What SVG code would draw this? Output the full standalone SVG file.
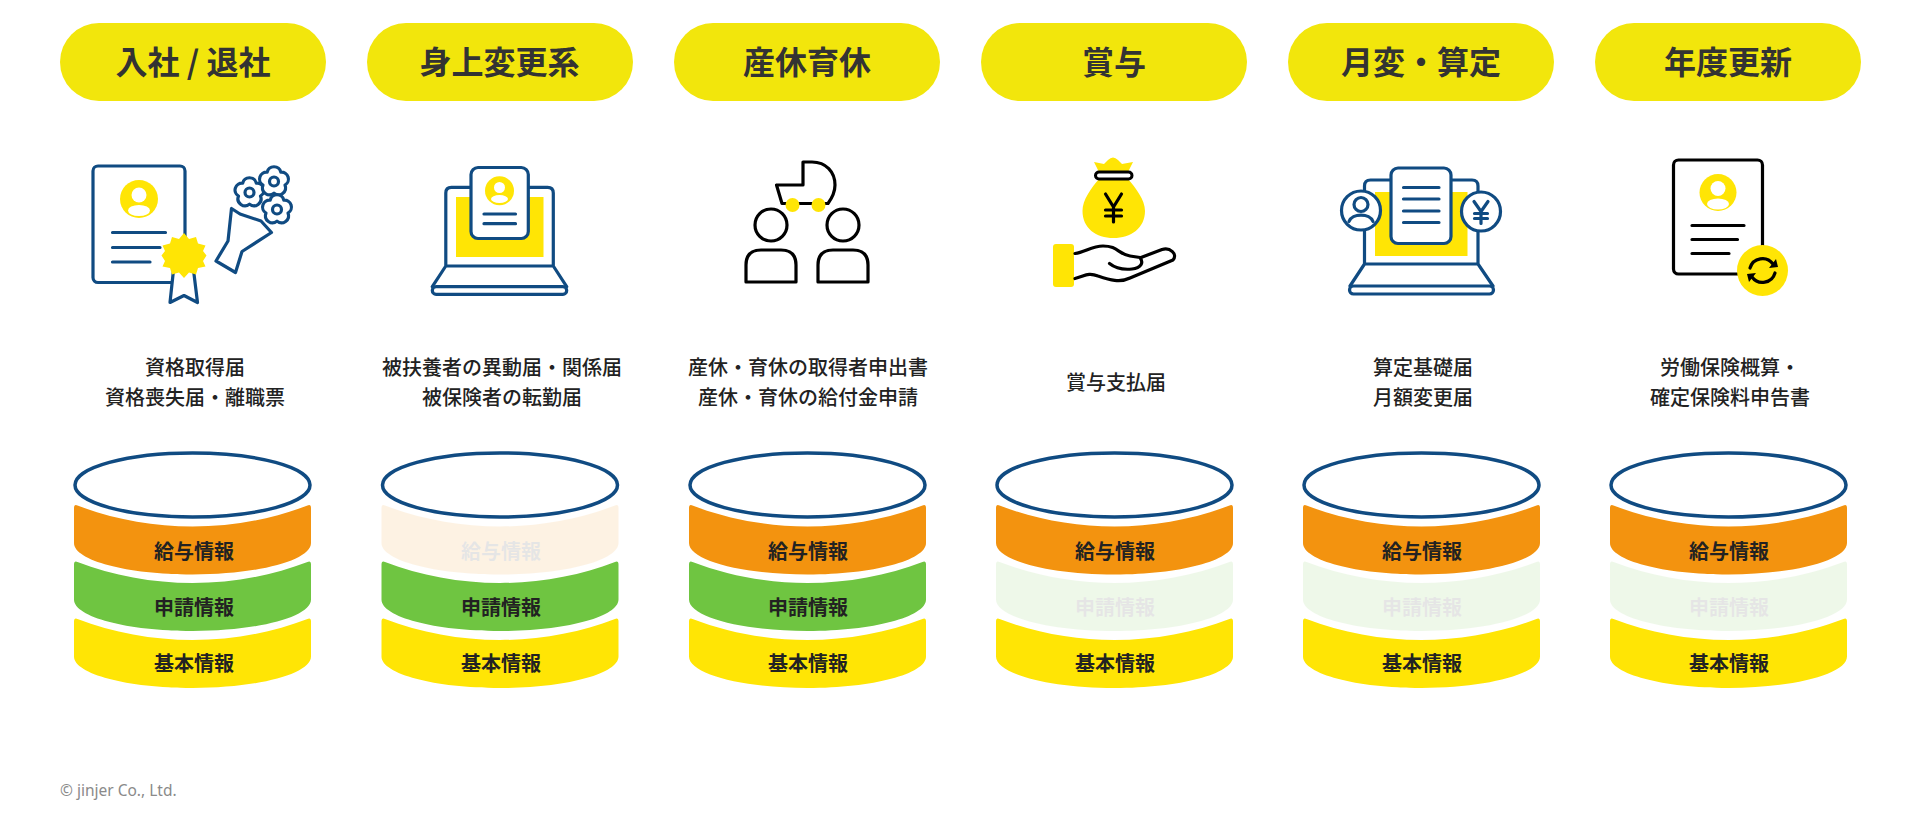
<svg xmlns="http://www.w3.org/2000/svg" width="1920" height="825" viewBox="0 0 1920 825">
<style>
text{font-family:"Noto Sans CJK JP","Noto Sans",sans-serif;text-anchor:middle}
.pill{fill:#f2e60c}
.pt{font-size:32px;font-weight:700;fill:#333}
.d{font-size:20px;font-weight:500;fill:#222}
.bt{font-size:20px;font-weight:700;fill:#222}
.top{fill:#fff;stroke:#104b82;stroke-width:3.500}
.o{fill:#f3930f}.g{fill:#6fc541}.y{fill:#ffe505}
.fade{opacity:.11}
.n{fill:none;stroke:#104b82;stroke-width:3.200;stroke-linecap:round;stroke-linejoin:round}
.nw{fill:#fff;stroke:#104b82;stroke-width:3.200;stroke-linejoin:round}
.k{fill:none;stroke:#000;stroke-width:3.200;stroke-linecap:round;stroke-linejoin:round}
.kw{fill:#fff;stroke:#000;stroke-width:3;stroke-linejoin:round}
.fy{fill:#ffe505}
.w{fill:#fff}
</style>
<defs>
<path id="band" d="M-118.500,3Q-118.500,-1 -115,0.500C-80,14 -40,21.500 0,21.500C40,21.500 80,14 115,0.500Q118.500,-1 118.500,3V38C118.500,55.500 65,69.500 0,69.500C-65,69.500 -118.500,55.500 -118.500,38Z"/>
<path id="flower" d="M-6.800,-9.400A7,7 0 0 1 6.800,-9.400A7,7 0 0 1 11,3.600A7,7 0 0 1 0,11.600A7,7 0 0 1 -11,3.600A7,7 0 0 1 -6.800,-9.400Z"/>
<g id="cyl-top"><ellipse class="top" cx="0" cy="485" rx="117.500" ry="32"/></g>
</defs>
<rect width="1920" height="825" fill="#fff"/>

<g id="col1">
<g id="pill1"><rect class="pill" x="60" y="23" width="266" height="78" rx="39"/><text class="pt" x="193" y="74">入社 / 退社</text></g>
<g id="icon1">
<rect class="n" x="93" y="166" width="92" height="116.500" rx="5"/>
<circle class="fy" cx="139" cy="199" r="19"/><circle class="w" cx="139" cy="195" r="7.500"/><ellipse class="w" cx="139" cy="210.500" rx="11" ry="5.500"/>
<path class="n" d="M112.500,232.500H165.500M112.500,247.500H160M112.500,262H150"/>
<path class="nw" d="M173.500,270L170,302.500L184,295.500L197.500,302.500L193.500,270Z"/>
<polygon class="fy" points="184,233 189,239 196,237 198,243.500 205.500,245.500 203,251 206.500,255.500 203,261 205.500,266.500 198,268 196,274.500 189,272.500 184,278 179,272.500 172,274.500 170,268 162.500,266.500 165,261 161.500,255.500 165,251 162.500,245.500 170,243.500 172,237 179,239"/>
<path class="n" d="M231.500,208.500L228,241L216,261L235.500,272.500L242,251.500L271.500,232.500L261,221L240,214Z"/>
<use href="#flower" class="nw" transform="translate(249.500,192.500)"/><circle class="n" cx="249.500" cy="192.500" r="4.500"/>
<use href="#flower" class="nw" transform="translate(274,181.500)"/><circle class="n" cx="274" cy="181.500" r="4.500"/>
<use href="#flower" class="nw" transform="translate(277,209.500)"/><circle class="n" cx="277" cy="209.500" r="4.500"/>
</g>
<text class="d" x="195" y="375">資格取得届</text><text class="d" x="195" y="405">資格喪失届・離職票</text>
<g id="cyl1"><use href="#cyl-top" x="192.500"/>
<use href="#band" class="o" x="192.500" y="505"/><text class="bt" x="194" y="559">給与情報</text>
<use href="#band" class="g" x="192.500" y="561.500"/><text class="bt" x="194" y="615">申請情報</text>
<use href="#band" class="y" x="192.500" y="618.500"/><text class="bt" x="194" y="671">基本情報</text></g>
</g>

<g id="col2">
<g id="pill2"><rect class="pill" x="367" y="23" width="266" height="78" rx="39"/><text class="pt" x="499.500" y="74">身上変更系</text></g>
<g id="icon2">
<rect class="fy" x="456" y="197" width="87.500" height="60"/>
<path class="n" d="M445.800,266V193Q445.800,187.300 451.500,187.300H547.500Q553.300,187.300 553.300,193V266M445.800,266H553.300M445.800,266L432.300,286.700M553.300,266L566.700,286.700"/>
<rect class="n" x="432.300" y="286.700" width="134.400" height="7.600" rx="3.800"/>
<rect class="nw" x="471" y="167.500" width="57.300" height="71" rx="7"/>
<circle class="fy" cx="499.500" cy="190.700" r="14.500"/><circle class="w" cx="499.500" cy="187.500" r="5.500"/><ellipse class="w" cx="499.500" cy="199" rx="8.500" ry="4"/>
<path class="n" d="M484,214H515.500M484,223.700H515.500"/>
</g>
<text class="d" x="502" y="375">被扶養者の異動届・関係届</text><text class="d" x="502" y="405">被保険者の転勤届</text>
<g id="cyl2"><use href="#cyl-top" x="500"/>
<g class="fade"><use href="#band" class="o" x="500" y="505"/><text class="bt" x="501" y="559">給与情報</text></g>
<use href="#band" class="g" x="500" y="561.500"/><text class="bt" x="501" y="615">申請情報</text>
<use href="#band" class="y" x="500" y="618.500"/><text class="bt" x="501" y="671">基本情報</text></g>
</g>

<g id="col3">
<g id="pill3"><rect class="pill" x="674" y="23" width="266" height="78" rx="39"/><text class="pt" x="807" y="74">産休育休</text></g>
<g id="icon3">
<path class="k" d="M803,162H812C826,162 835,172 835,185C835,192 832,198 828,203.500H782L776.500,185H803Z"/>
<circle class="fy" cx="792.500" cy="205" r="7"/><circle class="fy" cx="818.500" cy="205" r="7"/>
<circle class="k" cx="771" cy="225" r="16"/><circle class="k" cx="843" cy="225" r="16"/>
<path class="k" d="M746,282V265Q746,250 761,250H781Q796,250 796,265V282Z"/>
<path class="k" d="M818,282V265Q818,250 833,250H853Q868,250 868,265V282Z"/>
</g>
<text class="d" x="808" y="375">産休・育休の取得者申出書</text><text class="d" x="808" y="405">産休・育休の給付金申請</text>
<g id="cyl3"><use href="#cyl-top" x="807.500"/>
<use href="#band" class="o" x="807.500" y="505"/><text class="bt" x="808" y="559">給与情報</text>
<use href="#band" class="g" x="807.500" y="561.500"/><text class="bt" x="808" y="615">申請情報</text>
<use href="#band" class="y" x="807.500" y="618.500"/><text class="bt" x="808" y="671">基本情報</text></g>
</g>

<g id="col4">
<g id="pill4"><rect class="pill" x="981" y="23" width="266" height="78" rx="39"/><text class="pt" x="1114" y="74">賞与</text></g>
<g id="icon4">
<path class="fy" d="M1094,162L1104,164L1108,160Q1113,155 1118,160L1122,164L1133,162L1128,172H1099ZM1100,178H1127C1136,188 1145,200 1145,211C1145,228 1131,238 1113.500,238C1096,238 1082.500,228 1082.500,211C1082.500,200 1091,188 1100,178Z"/>
<rect class="kw" x="1095.500" y="172" width="36.500" height="7" rx="3.500"/>
<path class="k" d="M1105.500,194L1113.500,207L1121.500,194M1113.500,207V222M1105.500,210H1121.500M1105.500,216H1121.500"/>
<rect class="fy" x="1053" y="244" width="21" height="43" rx="3"/>
<path class="k" d="M1075,253.500C1085,252 1092,246 1103,246C1118,246 1118,254 1130,256L1140,257.500C1144,263 1141,268 1132,269C1122,270 1115,268 1109.500,263.500M1141,257.500L1162,249.500C1170,247 1178,254 1173,260L1130,278C1120,283 1110,280 1098,276C1088,272 1085,276 1075,278.500"/>
</g>
<text class="d" x="1116" y="390">賞与支払届</text>
<g id="cyl4"><use href="#cyl-top" x="1114.500"/>
<use href="#band" class="o" x="1114.500" y="505"/><text class="bt" x="1115" y="559">給与情報</text>
<g class="fade"><use href="#band" class="g" x="1114.500" y="561.500"/><text class="bt" x="1115" y="615">申請情報</text></g>
<use href="#band" class="y" x="1114.500" y="618.500"/><text class="bt" x="1115" y="671">基本情報</text></g>
</g>

<g id="col5">
<g id="pill5"><rect class="pill" x="1288" y="23" width="266" height="78" rx="39"/><text class="pt" x="1421" y="74">月変・算定</text></g>
<g id="icon5">
<rect class="fy" x="1375" y="192" width="92.500" height="64"/>
<path class="n" d="M1364.500,264V186Q1364.500,180 1370.500,180H1472Q1478,180 1478,186V264M1364.500,264H1478M1364.500,264L1350,286M1478,264L1493,286"/>
<rect class="n" x="1349.500" y="286" width="144" height="8" rx="4"/>
<rect class="nw" x="1391" y="168" width="60" height="75.500" rx="7"/>
<path class="n" d="M1403.500,187.500H1439M1403.500,199H1439M1403.500,211H1439M1403.500,222.500H1439"/>
<circle class="nw" cx="1361" cy="210.500" r="19.500"/><circle class="n" cx="1361" cy="204.500" r="7"/><path class="n" d="M1349,221.500C1352,213 1370,213 1373,221.500"/>
<circle class="nw" cx="1481" cy="211.500" r="19.500"/>
<path class="n" d="M1474,201.500L1481,211.500L1488,201.500M1481,211.500V223.500M1474.500,213.500H1487.500M1474.500,218.500H1487.500"/>
</g>
<text class="d" x="1423" y="375">算定基礎届</text><text class="d" x="1423" y="405">月額変更届</text>
<g id="cyl5"><use href="#cyl-top" x="1421.500"/>
<use href="#band" class="o" x="1421.500" y="505"/><text class="bt" x="1422" y="559">給与情報</text>
<g class="fade"><use href="#band" class="g" x="1421.500" y="561.500"/><text class="bt" x="1422" y="615">申請情報</text></g>
<use href="#band" class="y" x="1421.500" y="618.500"/><text class="bt" x="1422" y="671">基本情報</text></g>
</g>

<g id="col6">
<g id="pill6"><rect class="pill" x="1595" y="23" width="266" height="78" rx="39"/><text class="pt" x="1728" y="74">年度更新</text></g>
<g id="icon6">
<rect class="k" x="1673.500" y="160" width="89" height="114" rx="5"/>
<circle class="fy" cx="1718" cy="192.500" r="18.500"/><circle class="w" cx="1718" cy="188.500" r="7.500"/><ellipse class="w" cx="1718" cy="204" rx="11" ry="5.500"/>
<path class="k" d="M1692,225.500H1744M1692,239.500H1737.500M1692,253.500H1729"/>
<circle class="fy" cx="1762.500" cy="270.500" r="25.500"/>
<path class="k" d="M1750,268A13,13 0 0 1 1773,264M1775,273A13,13 0 0 1 1752,277"/>
<path d="M1769,268L1778,267L1776,259ZM1756,273L1747,274L1749,282Z"/>
</g>
<text class="d" x="1730" y="375">労働保険概算・</text><text class="d" x="1730" y="405">確定保険料申告書</text>
<g id="cyl6"><use href="#cyl-top" x="1728.500"/>
<use href="#band" class="o" x="1728.500" y="505"/><text class="bt" x="1729" y="559">給与情報</text>
<g class="fade"><use href="#band" class="g" x="1728.500" y="561.500"/><text class="bt" x="1729" y="615">申請情報</text></g>
<use href="#band" class="y" x="1728.500" y="618.500"/><text class="bt" x="1729" y="671">基本情報</text></g>
</g>

<text x="60" y="796" style="text-anchor:start;font-family:'Noto Sans',sans-serif;font-size:15.500px;fill:#8a8a8a">© jinjer Co., Ltd.</text>
</svg>
